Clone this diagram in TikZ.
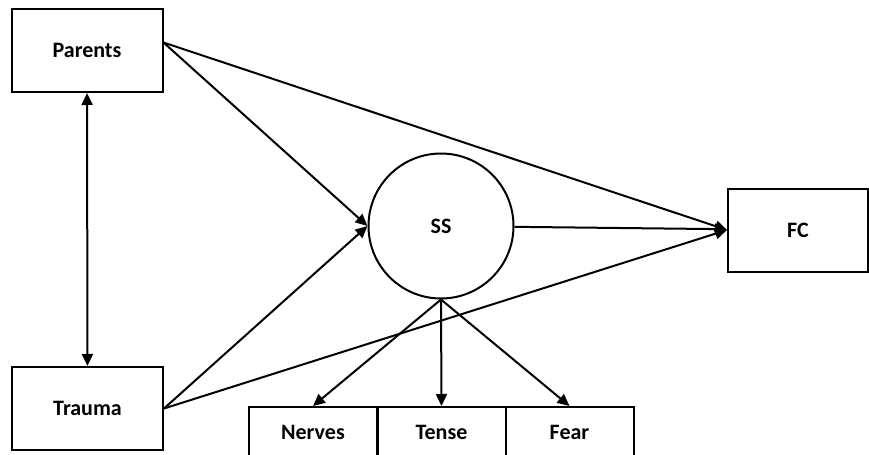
\documentclass[tikz,border=0pt]{standalone}
\usepackage{fontspec}
\setmainfont{Carlito}
\usetikzlibrary{arrows.meta}
\begin{document}
\begin{tikzpicture}[x=0.5pt,y=-0.5pt,line width=1pt,>={Triangle[length=6pt,width=5.5pt]},
  every node/.style={font=\fontsize{11}{13}\selectfont\bfseries},
  box/.style={draw,minimum width=75.5pt,minimum height=41.5pt},
  item/.style={draw,minimum width=64pt,minimum height=25pt}]
  \clip (0,0) rectangle (869,455);
  \node[box] (par) at (87,50.5) {Parents};
  \node[box] (tra) at (87.5,408.5) {Trauma};
  \node[draw,circle,minimum size=72.5pt] (ss) at (441,226) {SS};
  \node[box,minimum width=70pt] (fc) at (798,230) {FC};
  \node[item] (nrv) at (313,432) {Nerves};
  \node[item] (tns) at (441.5,432) {Tense};
  \node[item] (fear) at (569.5,432) {Fear};
  \draw[<->] (par) -- (tra);
  \draw[->] ([yshift=4pt]par.east) -- (ss.west);
  \draw[->] ([yshift=4pt]par.east) -- (fc.west);
  \draw[->] (tra.east) -- (ss.west);
  \draw[->] (tra.east) -- (fc.west);
  \draw[->] (ss) -- (fc);
  \draw[->] (ss.south) -- (nrv.north);
  \draw[->] (ss.south) -- (tns.north);
  \draw[->] (ss.south) -- (fear.north);
\end{tikzpicture}
\end{document}
